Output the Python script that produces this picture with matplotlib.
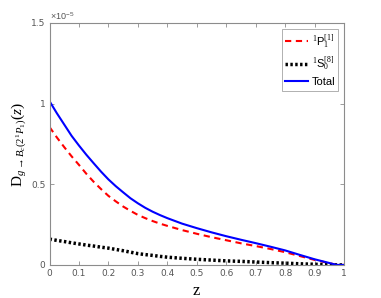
import matplotlib
matplotlib.use("Agg")
import matplotlib.pyplot as plt
import numpy as np

plt.rcParams["mathtext.fontset"] = "custom"
plt.rcParams["mathtext.rm"] = "Liberation Serif"
plt.rcParams["mathtext.it"] = "Liberation Serif:italic"
plt.rcParams["mathtext.sf"] = "Liberation Sans"

z = [0.0, 0.025, 0.05, 0.075, 0.1, 0.125, 0.15, 0.175, 0.2, 0.225, 0.25, 0.275,
     0.3, 0.325, 0.35, 0.375, 0.4, 0.45, 0.5, 0.55, 0.6,
     0.65, 0.7, 0.75, 0.8, 0.85, 0.9, 0.95, 0.975, 1.0]
p1 = [0.855, 0.79, 0.73, 0.673, 0.62, 0.565, 0.515, 0.47, 0.428, 0.394, 0.362, 0.335,
      0.31, 0.29, 0.272, 0.256, 0.242, 0.216, 0.193,
      0.172, 0.153, 0.134, 0.117, 0.099, 0.079, 0.055, 0.031, 0.011, 0.0, 0.0]
s0 = [0.16, 0.152, 0.145, 0.137, 0.13, 0.123, 0.117, 0.11, 0.104, 0.096, 0.088, 0.079,
      0.07, 0.064, 0.059, 0.053, 0.048, 0.041, 0.035,
      0.03, 0.025, 0.022, 0.018, 0.014, 0.011, 0.007, 0.004, 0.001, 0.0, 0.0]
total = [1.015, 0.94, 0.87, 0.80, 0.74, 0.683, 0.63, 0.578, 0.53, 0.488, 0.45, 0.413,
         0.382, 0.354, 0.33, 0.309, 0.29, 0.256, 0.228,
         0.202, 0.178, 0.156, 0.135, 0.113, 0.09, 0.062, 0.035, 0.012, 0.0, 0.0]

xticks = [0, 0.1, 0.2, 0.3, 0.4, 0.5, 0.6, 0.7, 0.8, 0.9, 1]
xticklabels = ["0", "0.1", "0.2", "0.3", "0.4", "0.5", "0.6", "0.7", "0.8", "0.9", "1"]
yticks = [0, 0.5, 1, 1.5]
yticklabels = ["0", "0.5", "1", "1.5"]

scale = 1e-5
fig = plt.figure(figsize=(3.81, 2.98), dpi=100)
ax = fig.add_axes([0.13, 0.111, 0.773, 0.812])

zs = np.array(z)
ax.plot(zs, np.array(p1) * scale, color="#ff0000", ls=(0, (3, 2.2)), lw=1.5,
        label=r"$^{1}\mathsf{P}_{1}^{[1]}$")
ax.plot(zs, np.array(s0) * scale, color="black", ls=(0, (0.7, 0.7)), lw=2.5,
        label=r"$^{1}\mathsf{S}_{0}^{[8]}$")
ax.plot(zs, np.array(total) * scale, color="#0000ff", lw=1.5, label="Total")

ax.set_xlim(0, 1)
ax.set_ylim(0, 1.5e-5)
ax.set_xticks(xticks)
ax.set_xticklabels(xticklabels)
ax.set_yticks([v * scale for v in yticks])
ax.set_yticklabels(yticklabels)
gray = "#8c8c8c"
for s in ax.spines.values():
    s.set_color(gray)
    s.set_linewidth(0.8)
ax.tick_params(direction="in", top=True, right=True, length=3, width=0.6,
               colors=gray, labelsize=6.5, labelcolor="#555555", pad=3)
ax.text(0.0, 1.005, r"$\mathsf{\times10^{-5}}$", transform=ax.transAxes, fontsize=6.5,
        color="#555555", ha="left", va="bottom")

ax.set_xlabel(r"$\mathrm{z}$", fontsize=12, labelpad=2)
ax.set_ylabel(r"$\mathrm{D}_{g\rightarrow B_c(2^1P_1)}(z)$", fontsize=11, labelpad=2)

leg = ax.legend(loc="upper right", fontsize=8, frameon=True, fancybox=False,
                edgecolor=gray, handlelength=2.1, handletextpad=0.3,
                borderpad=0.3, labelspacing=0.35, borderaxespad=0.5)
leg.get_frame().set_linewidth(0.6)
for t in leg.get_texts():
    t.set_family("Liberation Sans")

fig.savefig("out.png", dpi=100)
